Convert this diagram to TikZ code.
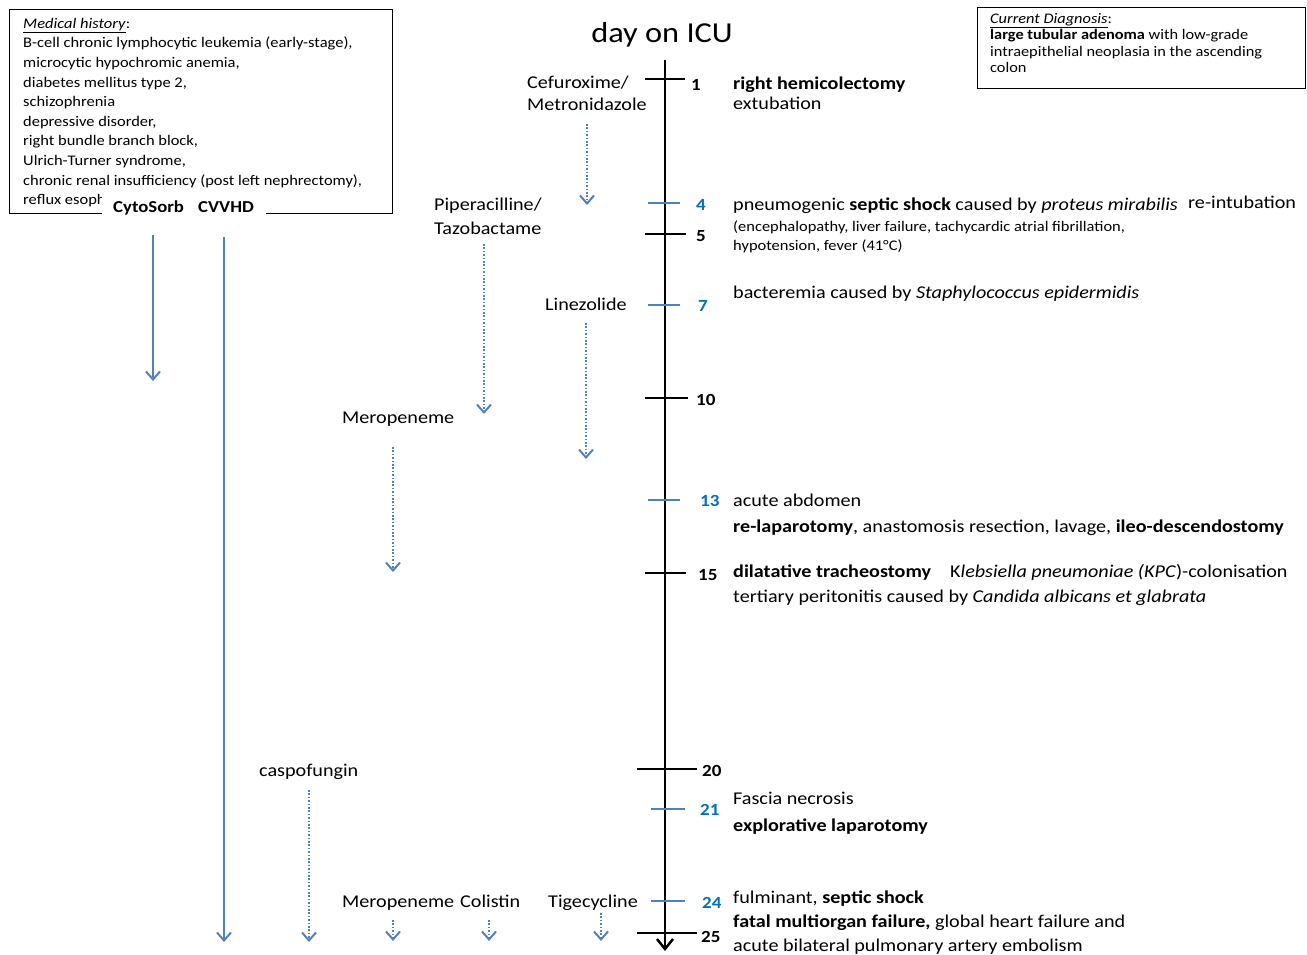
\documentclass[tikz,border=0pt]{standalone}
\usepackage{fontspec}
\setmainfont{Carlito}[FakeStretch=1.12]
\usetikzlibrary{arrows.meta}
\definecolor{arrowblue}{RGB}{79,129,189}
\definecolor{numblue}{RGB}{0,112,192}
\tikzset{
 txt/.style={inner sep=0pt, anchor=base west, font=\fontsize{18}{21.6}\selectfont},
 smalltxt/.style={inner sep=0pt, anchor=base west, font=\fontsize{14.7}{17}\selectfont},
 boxtxt/.style={inner sep=0pt, anchor=base west, font=\fontsize{14.7}{17}\selectfont},
 diagtxt/.style={inner sep=0pt, anchor=base west, font=\fontsize{14.6}{16}\selectfont},
 labtxt/.style={inner sep=0pt, anchor=base west, font=\fontsize{16.7}{19}\selectfont\bfseries},
 daynum/.style={inner sep=0pt, anchor=base west, font=\fontsize{17}{20}\selectfont\bfseries},
 bluenum/.style={daynum, text=numblue},
 blacktick/.style={line width=2.5pt, black},
 bluetick/.style={line width=2pt, arrowblue},
 solidarrow/.style={line width=2pt, arrowblue, -{Straight Barb[length=8pt,width=14pt]}},
 dotarrow/.style={line width=2pt, arrowblue, dash pattern=on 1.6pt off 1.8pt, -{Straight Barb[length=8pt,width=14pt]}},
 infobox/.style={draw, line width=1.3pt, anchor=north west, inner sep=0pt},
}
\begin{document}
\begin{tikzpicture}[x=1pt, y=-1pt]
\useasboundingbox (0,0) rectangle (1307,954);
% title
\node[inner sep=0pt, anchor=base, font=\fontsize{28.9}{32}\selectfont] (title) at (662,42) {day on ICU};
% medical history box
\node[infobox, minimum width=383pt, minimum height=204pt] (mhbox) at (9,9) {};
\node[boxtxt] (mh1) at (23,28.3) {\underline{\textit{Medical history}}:};
\node[boxtxt] (mh2) at (23,47.9) {B-cell chronic lymphocytic leukemia (early-stage),};
\node[boxtxt] (mh3) at (23,67.5) {microcytic hypochromic anemia,};
\node[boxtxt] (mh4) at (23,87.1) {diabetes mellitus type 2,};
\node[boxtxt] (mh5) at (23,106.7) {schizophrenia};
\node[boxtxt] (mh6) at (23,126.3) {depressive disorder,};
\node[boxtxt] (mh7) at (23,145.9) {right bundle branch block,};
\node[boxtxt] (mh8) at (23,165.5) {Ulrich-Turner syndrome,};
\node[boxtxt] (mh9) at (23,185.1) {chronic renal insufficiency (post left nephrectomy),};
\node[boxtxt] (mh10) at (23,204.7) {reflux esoph};
% dialysis labels
\node[fill=white, inner sep=0pt, minimum width=164pt, minimum height=28pt, anchor=north west] (dialbg) at (102,196) {};
\node[labtxt] (cyto) at (113,212) {CytoSorb};
\node[labtxt] (cvvhd) at (198,212) {CVVHD};
\coordinate (cytoE) at (153,381);
\coordinate (cvvE) at (224,942);
\draw[solidarrow, shorten <=23pt] (cyto.base -| cytoE) -- (cytoE);
\draw[solidarrow, shorten <=25pt] (cvvhd.base -| cvvE) -- (cvvE);
% current diagnosis box
\node[infobox, minimum width=328pt, minimum height=81pt] (dxbox) at (977,7) {};
\node[diagtxt] (dx1) at (990,23.5) {\underline{\textit{Current Diagnosis}}:};
\node[diagtxt] (dx2) at (990,39.8) {\textbf{large tubular adenoma} with low-grade};
\node[diagtxt] (dx3) at (990,56) {intraepithelial neoplasia in the ascending};
\node[diagtxt] (dx4) at (990,72.3) {colon};
% axis
\coordinate (axtop) at (665,60);
\coordinate (axend) at (665,951);
\draw[line width=2.5pt, -{Straight Barb[length=10pt,width=16pt]}] (axtop) -- (axend);
% ticks
\draw[blacktick] (645,79) -- (685,79);
\draw[bluetick] (648,203) -- (680,203);
\draw[blacktick] (645,234) -- (686,234);
\draw[bluetick] (648,305) -- (680,305);
\draw[blacktick] (645,398) -- (688,398);
\draw[bluetick] (648,500) -- (680,500);
\draw[blacktick] (645,573) -- (686,573);
\draw[blacktick] (637,769) -- (697,769);
\draw[bluetick] (651,809) -- (685,809);
\draw[bluetick] (651,901) -- (685,901);
\draw[blacktick] (637,933) -- (697,933);
% day numbers
\node[daynum] (d1) at (691,90) {1};
\node[bluenum] (d4) at (696,210) {4};
\node[daynum] (d5) at (696,241) {5};
\node[bluenum] (d7) at (698,311) {7};
\node[daynum] (d10) at (696,405) {10};
\node[bluenum] (d13) at (700,506) {13};
\node[daynum] (d15) at (698,580) {15};
\node[daynum] (d20) at (702,776) {20};
\node[bluenum] (d21) at (700,815) {21};
\node[bluenum] (d24) at (702,908) {24};
\node[daynum] (d25) at (701,942) {25};
% events
\node[txt] (e1a) at (733,89) {\textbf{right hemicolectomy}};
\node[txt] (e1b) at (733,109) {extubation};
\node[txt] (e4a) at (733,210) {pneumogenic \textbf{septic shock} caused by \textit{proteus mirabilis}};
\node[txt] (e4r) at (1188,208) {re-intubation};
\node[smalltxt] (e4b) at (733,231) {(encephalopathy, liver failure, tachycardic atrial fibrillation,};
\node[smalltxt] (e4c) at (733,250) {hypotension, fever (41°C)};
\node[txt] (e7) at (733,298) {bacteremia caused by \textit{Staphylococcus epidermidis}};
\node[txt] (e13a) at (733,506) {acute abdomen};
\node[txt] (e13b) at (733,532) {\textbf{re-laparotomy}, anastomosis resection, lavage, \textbf{ileo-descendostomy}};
\node[txt] (e15a) at (733,577) {\textbf{dilatative tracheostomy}};
\node[txt] (e15k) at (950,577) {K\textit{lebsiella pneumoniae (KPC})-colonisation};
\node[txt] (e15b) at (733,602) {tertiary peritonitis caused by \textit{Candida albicans et glabrata}};
\node[txt] (e21a) at (733,804) {Fascia necrosis};
\node[txt] (e21b) at (733,831) {\textbf{explorative laparotomy}};
\node[txt] (e24a) at (733,903) {fulminant, \textbf{septic shock}};
\node[txt] (e24b) at (733,927) {\textbf{fatal multiorgan failure,} global heart failure and};
\node[txt] (e24c) at (733,951) {acute bilateral pulmonary artery embolism};
% drugs
\node[txt] (cef) at (527,88) {Cefuroxime/};
\node[txt] (met) at (527,110) {Metronidazole};
\node[txt] (pip) at (434,210) {Piperacilline/};
\node[txt] (taz) at (434,234) {Tazobactame};
\node[txt] (lin) at (545,310) {Linezolide};
\node[txt] (mero1) at (342,423) {Meropeneme};
\node[txt] (caspo) at (259,776) {caspofungin};
\node[txt] (mero2) at (342,907) {Meropeneme};
\node[txt] (coli) at (460,907) {Colistin};
\node[txt] (tige) at (548,907) {Tigecycline};
\coordinate (cefE) at (587,205);
\coordinate (pipE) at (484,414);
\coordinate (linE) at (586,459);
\coordinate (meroE) at (393,572);
\coordinate (caspE) at (309,942);
\coordinate (mero2E) at (393,941);
\coordinate (coliE) at (489,941);
\coordinate (tigeE) at (601,941);
\draw[dotarrow, shorten <=14pt] (met.base -| cefE) -- (cefE);
\draw[dotarrow, shorten <=10pt] (taz.base -| pipE) -- (pipE);
\draw[dotarrow, shorten <=13pt] (lin.base -| linE) -- (linE);
\draw[dotarrow, shorten <=24pt] (mero1.base -| meroE) -- (meroE);
\draw[dotarrow, shorten <=14pt] (caspo.base -| caspE) -- (caspE);
\draw[dotarrow, shorten <=13pt] (mero2.base -| mero2E) -- (mero2E);
\draw[dotarrow, shorten <=13pt] (coli.base -| coliE) -- (coliE);
\draw[dotarrow, shorten <=6pt] (tige.base -| tigeE) -- (tigeE);
\end{tikzpicture}
\end{document}
